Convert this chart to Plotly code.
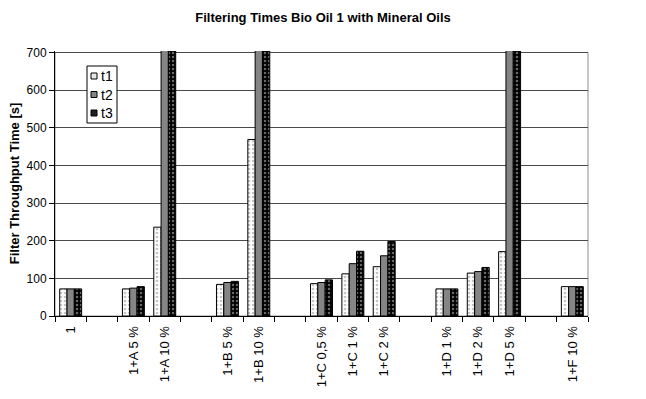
import plotly.graph_objects as go

categories = ["1", " ", "1+A 5 %", "1+A 10 %", "  ", "1+B 5 %", "1+B 10 %", "   ",
              "1+C 0,5 %", "1+C 1 %", "1+C 2 %", "    ", "1+D 1 %", "1+D 2 %", "1+D 5 %",
              "     ", "1+F 10 %"]
t1 = [72, None, 72, 236, None, 84, 469, None, 86, 112, 131, None, 72, 114, 171, None, 78]
t2 = [72, None, 74, 760, None, 89, 760, None, 89, 139, 160, None, 72, 118, 760, None, 78]
t3 = [72, None, 78, 760, None, 92, 760, None, 96, 172, 198, None, 72, 129, 760, None, 78]
series_names = ["t1", "t2", "t3"]
y_ticks = [0, 100, 200, 300, 400, 500, 600, 700]

FONT = "Arial, Liberation Sans, sans-serif"

# plot-area geometry (pixels) used to place the hand-drawn legend
L, R, T, B = 55, 58, 51, 83
W, H = 646, 399
PW, PH = W - L - R, H - T - B


def px_x(p):
    return (p - L) / PW


def px_y(p):
    return (H - B - p) / PH


fig = go.Figure()
fig.add_trace(go.Bar(
    x=categories, y=t1, name=series_names[0],
    marker=dict(color="white", line=dict(color="black", width=1),
                pattern=dict(shape=".", fgcolor="#8a8a8a", bgcolor="white", size=4, solidity=0.35)),
))
fig.add_trace(go.Bar(
    x=categories, y=t2, name=series_names[1],
    marker=dict(color="#858585", line=dict(color="black", width=1)),
))
fig.add_trace(go.Bar(
    x=categories, y=t3, name=series_names[2],
    marker=dict(color="black", line=dict(color="black", width=1),
                pattern=dict(shape=".", fgcolor="#d0d0d0", bgcolor="black", size=4, solidity=0.3)),
))

fig.add_shape(type="rect", xref="paper", yref="y", x0=0, x1=1, y0=0, y1=700,
              line=dict(color="#8c8c8c", width=1), layer="below")

# legend box (drawn by hand to match the compact original)
fig.add_shape(type="rect", xref="paper", yref="paper",
              x0=px_x(87), x1=px_x(117), y0=px_y(123), y1=px_y(66),
              line=dict(color="black", width=1), fillcolor="white", layer="above")
sym_fill = ["#e6e6e6", "#858585", "#202020"]
for i, name in enumerate(series_names):
    cy = 76 + i * 18.5
    fig.add_shape(type="rect", xref="paper", yref="paper",
                  x0=px_x(91), x1=px_x(97), y0=px_y(cy + 3), y1=px_y(cy - 3),
                  line=dict(color="black", width=1), fillcolor=sym_fill[i], layer="above")
    fig.add_annotation(xref="paper", yref="paper", x=px_x(99), y=px_y(cy),
                       text=name, showarrow=False, xanchor="left", yanchor="middle",
                       font=dict(family=FONT, size=14, color="black"))

fig.update_layout(
    width=W, height=H,
    margin=dict(l=L, r=R, t=T, b=B),
    paper_bgcolor="white", plot_bgcolor="white",
    font=dict(family=FONT, size=12, color="black"),
    barmode="group", bargap=0.3, bargroupgap=0,
    title=dict(text="<b>Filtering Times Bio Oil 1 with Mineral Oils</b>",
               x=0.5, xanchor="center", y=0.957, yanchor="middle",
               font=dict(family=FONT, size=13, color="black")),
    showlegend=False,
)

fig.update_xaxes(
    type="category", categoryorder="array", categoryarray=categories,
    tickson="boundaries", ticks="outside", ticklen=5, tickcolor="black",
    showline=True, linecolor="black", linewidth=1,
    tickangle=-90, tickfont=dict(family=FONT, size=13, color="black"),
    ticklabelstandoff=4,
    showgrid=False,
)
fig.update_yaxes(
    range=[0, 704], tickvals=y_ticks, ticks="outside", ticklen=5, tickcolor="black",
    showline=True, linecolor="black", linewidth=1,
    showgrid=True, gridcolor="#4a4a4a", gridwidth=1,
    tickfont=dict(family=FONT, size=12, color="black"),
    title=dict(text="<b>Filter Throughput Time [s]</b>", standoff=4,
               font=dict(family=FONT, size=13, color="black")),
    zeroline=False,
)

fig.write_html("out.html")
